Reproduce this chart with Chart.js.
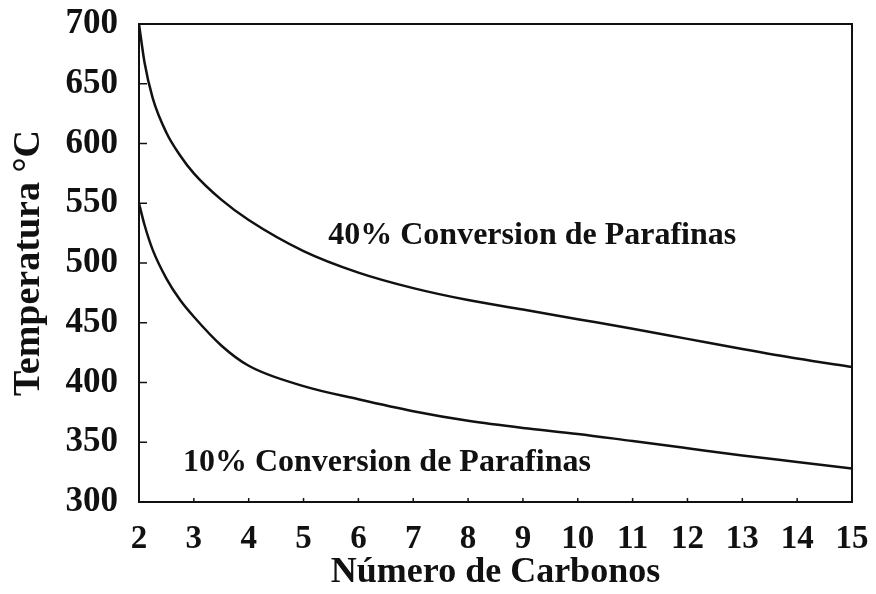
<!DOCTYPE html>
<html lang="es">

<head>
    <meta charset="UTF-8">
    <script src="https://cdn.jsdelivr.net/npm/chart.js@4.4.0/dist/chart.umd.min.js"></script>
    <title>Temperatura vs Número de Carbonos</title>
    <style>
        body { margin: 0; background: #fff; }
    </style>
</head>

<body>

    <canvas id="myChart" width="876" height="594"></canvas>

    <script>
        // values
        const carbonos = [2, 2.1, 2.25, 2.5, 2.75, 3, 3.5, 4, 5, 6, 7, 8, 9, 10, 11, 12, 13, 14, 15];
        const temp40 = [700, 668, 638, 609, 590, 575, 553, 536, 510, 492, 479, 469, 461, 453, 445, 436.5, 428, 420, 413];
        const temp10 = [550, 532, 511, 487, 469, 455, 431, 414, 397, 386, 376, 368, 362, 357, 351, 345, 339, 333.5, 328];

        const xTicks = [2, 3, 4, 5, 6, 7, 8, 9, 10, 11, 12, 13, 14, 15];
        const yTicks = [300, 350, 400, 450, 500, 550, 600, 650, 700];

        const noteTexts = ['40% Conversion de Parafinas', '10% Conversion de Parafinas'];
        const noteAt = [[5.45, 516], [2.8, 326]];

        const serif = '"Liberation Serif", "Times New Roman", serif';

        const toPoints = (xs, ys) => xs.map((c, i) => ({ x: c, y: ys[i] }));

        const frame = {
            id: 'frame',
            afterDraw(chart) {
                const { ctx, chartArea: a, scales: { x, y } } = chart;
                ctx.save();
                ctx.strokeStyle = '#111';
                ctx.lineWidth = 2;
                ctx.strokeRect(a.left, a.top, a.right - a.left, a.bottom - a.top);
                ctx.lineWidth = 1.5;
                yTicks.forEach(v => {
                    const py = y.getPixelForValue(v);
                    ctx.beginPath();
                    ctx.moveTo(a.left, py);
                    ctx.lineTo(a.left + 8, py);
                    ctx.stroke();
                });
                xTicks.forEach(v => {
                    const px = x.getPixelForValue(v);
                    ctx.beginPath();
                    ctx.moveTo(px, a.bottom);
                    ctx.lineTo(px, a.bottom - 4);
                    ctx.stroke();
                });
                ctx.fillStyle = '#111';
                ctx.font = 'bold 32px ' + serif;
                ctx.textBaseline = 'alphabetic';
                noteTexts.forEach((t, i) => {
                    ctx.fillText(t, x.getPixelForValue(noteAt[i][0]), y.getPixelForValue(noteAt[i][1]));
                });
                ctx.restore();
            }
        };

        const line = (data) => ({
            data: data,
            borderColor: '#111',
            borderWidth: 2.5,
            pointRadius: 0,
            fill: false,
            cubicInterpolationMode: 'monotone'
        });

        new Chart(document.getElementById('myChart'), {
            type: 'line',
            data: {
                datasets: [line(toPoints(carbonos, temp40)), line(toPoints(carbonos, temp10))]
            },
            options: {
                responsive: false,
                animation: false,
                layout: { padding: { left: 0, right: 24, top: 24, bottom: 0 } },
                plugins: { legend: { display: false }, tooltip: { enabled: false } },
                scales: {
                    x: {
                        type: 'linear',
                        min: 2,
                        max: 15,
                        afterBuildTicks: s => { s.ticks = xTicks.map(v => ({ value: v })); },
                        afterFit: s => { s.height = 92; s.paddingLeft = 0; s.paddingRight = 0; },
                        grid: { display: false, drawTicks: false },
                        border: { display: false },
                        ticks: { color: '#111', padding: 18, font: { family: serif, size: 33, weight: 'bold' } },
                        title: {
                            display: true,
                            text: 'Número de Carbonos',
                            color: '#111',
                            padding: { top: 0, bottom: 0 },
                            font: { family: serif, size: 36, weight: 'bold' }
                        }
                    },
                    y: {
                        min: 300,
                        max: 700,
                        afterBuildTicks: s => { s.ticks = yTicks.map(v => ({ value: v })); },
                        afterFit: s => { s.width = 139; s.paddingTop = 0; s.paddingBottom = 0; },
                        grid: { display: false, drawTicks: false },
                        border: { display: false },
                        ticks: { color: '#111', padding: 21, font: { family: serif, size: 35, weight: 'bold' } },
                        title: {
                            display: true,
                            text: 'Temperatura °C',
                            color: '#111',
                            padding: { top: 6, bottom: 0 },
                            font: { family: serif, size: 38, weight: 'bold' }
                        }
                    }
                }
            },
            plugins: [frame]
        });
    </script>

</body>

</html>
